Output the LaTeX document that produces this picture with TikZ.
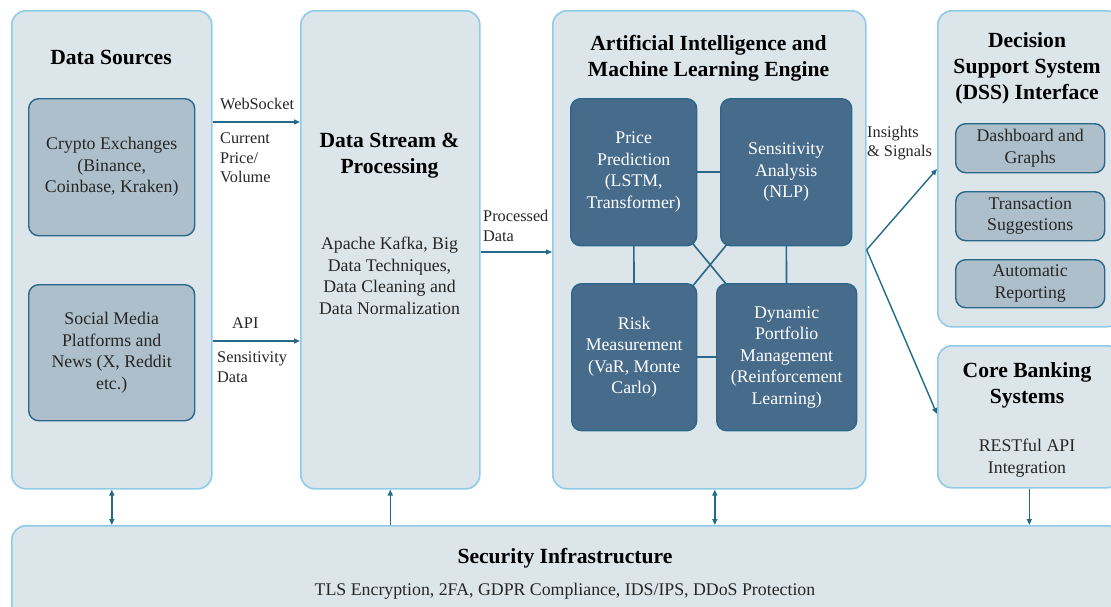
\documentclass[tikz,border=0pt]{standalone}
\usepackage{fontspec}
\setmainfont{Liberation Serif}
\usetikzlibrary{arrows.meta}
\definecolor{outerline}{HTML}{8FCBE8}
\definecolor{outerfill}{HTML}{DCE5E9}
\definecolor{lightfill}{HTML}{ADBFCA}
\definecolor{darkfill}{HTML}{476B8B}
\definecolor{innerline}{HTML}{2A6788}
\definecolor{arrowc}{HTML}{236A8C}
\pgfdeclarelayer{back}
\pgfdeclarelayer{mid}
\pgfsetlayers{back,mid,main}
\tikzset{
  outerbox/.style={draw=outerline, line width=1.6pt, fill=outerfill, rounded corners=14pt, anchor=north west, inner sep=0pt},
  lightbox/.style={draw=innerline, line width=1.4pt, fill=lightfill, rounded corners=10pt, anchor=north west, align=center, text=black!85, font=\bodyfont, inner sep=0pt},
  darkbox/.style={draw=innerline, line width=1.4pt, fill=darkfill, rounded corners=10pt, anchor=north west, align=center, text=white, font=\bodyfont, inner sep=0pt},
  titletext/.style={align=center, font=\titlefont, text=black},
  bodytext/.style={align=center, font=\bodyfont, text=black!85},
  labeltext/.style={align=left, font=\labelfont, text=black!85, anchor=west, inner sep=0pt},
  arr/.style={draw=arrowc, line width=1.4pt, -{Triangle[length=6pt,width=5pt]}},
  darr/.style={draw=arrowc, line width=1.4pt, {Triangle[length=6pt,width=5pt]}-{Triangle[length=6pt,width=5pt]}},
  link/.style={draw=innerline, line width=1.6pt},
}
\newcommand{\titlefont}{\fontsize{21.6}{26}\selectfont\bfseries}
\newcommand{\bodyfont}{\fontsize{17.8}{21.5}\selectfont}
\newcommand{\labelfont}{\fontsize{16.3}{19.5}\selectfont}
\begin{document}
\begin{tikzpicture}[x=1pt,y=-1pt]
\useasboundingbox (0,0) rectangle (1111,606);
\clip (0,0) rectangle (1111,606);
\begin{pgfonlayer}{back}
\node[outerbox, minimum width=200pt, minimum height=478pt] (ds) at (11,10) {};
\node[outerbox, minimum width=179pt, minimum height=478pt] (dsp) at (300,10) {};
\node[outerbox, minimum width=313pt, minimum height=478pt] (ai) at (552,10) {};
\node[outerbox, minimum width=183pt, minimum height=316pt] (dss) at (937,10) {};
\node[outerbox, minimum width=183pt, minimum height=142pt] (cbs) at (937,345) {};
\node[outerbox, minimum width=1109pt, minimum height=100pt] (sec) at (11,525) {};
\end{pgfonlayer}
% titles and texts
\node[titletext] (dst) at (111,57) {Data Sources};
\node[lightbox, minimum width=166pt, minimum height=137pt] (ce) at (28,98) {Crypto Exchanges\\(Binance,\\Coinbase, Kraken)};
\node[lightbox, minimum width=166pt, minimum height=136pt] (sm) at (28,284) {Social Media\\Platforms and\\News (X, Reddit\\etc.)};
\node[titletext] (dspt) at (389.5,156) {Data Stream \&\\Processing};
\node[bodytext] (dspb) at (389.5,276) {Apache Kafka, Big\\Data Techniques,\\Data Cleaning and\\Data Normalization};
\node[titletext] (ait) at (708.5,58) {Artificial Intelligence and\\Machine Learning Engine};
\node[darkbox, minimum width=126pt, minimum height=147pt] (pp) at (570,98) {Price\\Prediction\\(LSTM,\\Transformer)};
\node[darkbox, minimum width=131pt, minimum height=147pt] (sa) at (720,98) {Sensitivity\\Analysis\\(NLP)};
\node[darkbox, minimum width=125pt, minimum height=147pt] (rm) at (571,283) {Risk\\Measurement\\(VaR, Monte\\Carlo)};
\node[darkbox, minimum width=140pt, minimum height=147pt] (dpm) at (716,283) {Dynamic\\Portfolio\\Management\\(Reinforcement\\Learning)};
\begin{pgfonlayer}{mid}
\draw[link] (pp.center) -- (sa.center);
\draw[link] (rm.center) -- (dpm.center);
\draw[link] (pp.center) -- (rm.center);
\draw[link] (sa.center) -- (dpm.center);
\draw[link] (pp.center) -- (dpm.center);
\draw[link] (rm.center) -- (sa.center);
\end{pgfonlayer}
\node[titletext] (dsst) at (1027,68) {Decision\\Support System\\(DSS) Interface};
\node[lightbox, minimum width=149pt, minimum height=49pt] (dg) at (955,123) {Dashboard and\\Graphs};
\node[lightbox, minimum width=149pt, minimum height=49pt] (ts) at (955,191) {Transaction\\Suggestions};
\node[lightbox, minimum width=149pt, minimum height=48pt] (ar) at (955,259) {Automatic\\Reporting};
\node[titletext] (cbst) at (1027,385) {Core Banking\\Systems};
\node[bodytext] (cbsb) at (1027,458) {RESTful API\\Integration};
\node[titletext] (sect) at (565,558) {Security Infrastructure};
\node[bodytext] (secb) at (565,591) {TLS Encryption, 2FA, GDPR Compliance, IDS/IPS, DDoS Protection};
% labels
\node[labeltext] (lws) at (220,104) {WebSocket};
\node[labeltext] (lcp) at (220,158) {Current\\Price/\\Volume};
\node[labeltext] (lapi) at (232,323) {API};
\node[labeltext] (lsd) at (217,367) {Sensitivity\\Data};
\node[labeltext] (lpd) at (483,226) {Processed\\Data};
\node[labeltext] (lis) at (867,143) {Insights\\\& Signals};
% arrows
\draw[arr] (ds.east |- 0,122) -- (dsp.west |- 0,122);
\draw[arr] (ds.east |- 0,341) -- (dsp.west |- 0,341);
\draw[arr] (dsp.east |- 0,252) -- (ai.west |- 0,252);
\draw[arr] (ai.east) -- (dss.west |- 0,169);
\draw[arr] (ai.east) -- (cbs.west |- 0,414);
\draw[darr] (ds.south) -- (ds.south |- sec.north);
\draw[arr] (dsp.south |- sec.north) -- (dsp.south);
\draw[darr] ([xshift=5.5pt]ai.south) -- ([xshift=5.5pt]ai.south |- sec.north);
\draw[arr] (cbs.south) -- (cbs.south |- sec.north);
\end{tikzpicture}
\end{document}
